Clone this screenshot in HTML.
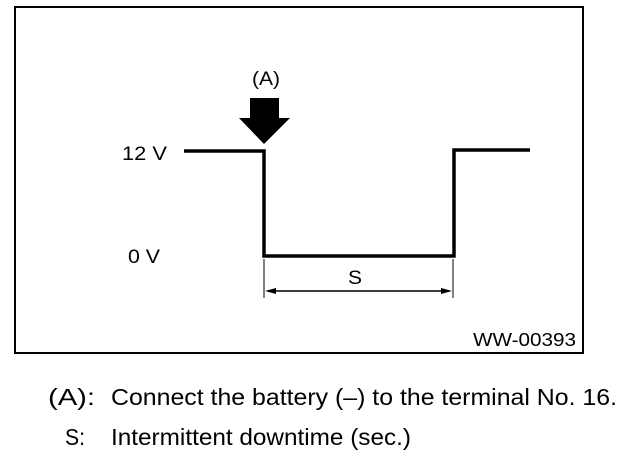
<!DOCTYPE html>
<html><head><style>
body{margin:0;background:#fff;width:640px;height:456px;overflow:hidden;font-family:"Liberation Sans",Arial,sans-serif;}
</style></head><body>
<svg width="640" height="456" xmlns="http://www.w3.org/2000/svg" style="position:absolute;left:0;top:0">
<rect x="15" y="7" width="568" height="346" fill="none" stroke="#000" stroke-width="2"/>
<polyline points="184,151 264,151 264,256 454,256 454,150 530,150" fill="none" stroke="#000" stroke-width="3.5"/>
<polygon points="250,98 279,98 279,118 290,118 264,144 239,118 250,118" fill="#000"/>
<line x1="264" y1="259" x2="264" y2="298" stroke="#000" stroke-width="1"/>
<line x1="453" y1="259" x2="453" y2="298" stroke="#000" stroke-width="1"/>
<line x1="268" y1="291" x2="449" y2="291" stroke="#000" stroke-width="1.5"/>
<polygon points="265,291 276,288 276,294" fill="#000"/>
<polygon points="452,291 441,288 441,294" fill="#000"/>
<g font-family="Liberation Sans, Arial, sans-serif" fill="#000">
<text x="252" y="85" font-size="19" textLength="28" lengthAdjust="spacingAndGlyphs">(A)</text>
<text x="348" y="284" font-size="19" textLength="14" lengthAdjust="spacingAndGlyphs">S</text>
<text x="122" y="160" font-size="19" textLength="45" lengthAdjust="spacingAndGlyphs">12 V</text>
<text x="128" y="263" font-size="19" textLength="32" lengthAdjust="spacingAndGlyphs">0 V</text>
<text x="473" y="346" font-size="18" textLength="103" lengthAdjust="spacingAndGlyphs">WW-00393</text>
<text x="48" y="405" font-size="23" textLength="47" lengthAdjust="spacingAndGlyphs">(A):</text>
<text x="111" y="405" font-size="23" textLength="506" lengthAdjust="spacingAndGlyphs">Connect the battery (–) to the terminal No. 16.</text>
<text x="65" y="445" font-size="23" textLength="20" lengthAdjust="spacingAndGlyphs">S:</text>
<text x="111" y="445" font-size="23" textLength="300" lengthAdjust="spacingAndGlyphs">Intermittent downtime (sec.)</text>
</g>
</svg>
</body></html>
